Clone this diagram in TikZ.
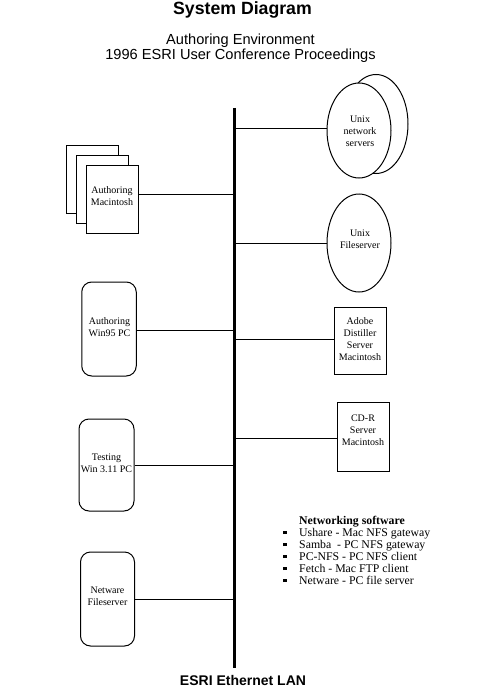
\documentclass[tikz,border=0pt]{standalone}
\usepackage{fontspec}
\setmainfont{Liberation Serif}
\newfontfamily\hv{Liberation Sans}
\usetikzlibrary{shapes.geometric}
\begin{document}
\begin{tikzpicture}[x=1pt,y=-1pt,
  lbl/.style={font=\fontsize{10}{12}\selectfont, align=center, inner sep=0pt},
  link/.style={line width=1pt},
  macbox/.style={draw, line width=1pt, fill=white, inner sep=0pt},
  pcbox/.style={draw, line width=1pt, rounded corners=10pt, fill=white, inner sep=0pt},
  srv/.style={draw, line width=1pt, ellipse, fill=white, inner sep=0pt},
  bus/.style={line width=3pt}]
\useasboundingbox[fill=white] (0,0) rectangle (483,690);

% titles
\node[font=\hv\bfseries\fontsize{17.7}{20}\selectfont, anchor=base, inner sep=0pt] (title) at (242.5,15) {System Diagram};
\node[font=\hv\fontsize{14.6}{15}\selectfont, anchor=base, inner sep=0pt] (sub1) at (240.5,45) {Authoring Environment};
\node[font=\hv\fontsize{14.6}{15}\selectfont, anchor=base, inner sep=0pt] (sub2) at (240.5,60) {1996 ESRI User Conference Proceedings};

% bus
\coordinate (bustop) at (234.5,108);
\coordinate (busbot) at (234.5,668);

% Authoring Macintosh stack
\node[macbox, minimum width=52pt, minimum height=68pt] (macC) at (92,179) {};
\node[macbox, minimum width=52pt, minimum height=68pt] (macB) at (102,189) {};
\node[macbox, minimum width=52pt, minimum height=68pt] (mac) at (112,199) {};
\node[lbl] (mact) at (112,196.5) {Authoring\\Macintosh};

% left PCs
\node[pcbox, minimum width=54.5pt, minimum height=94pt] (w95) at (109,329) {};
\node[lbl] (w95t) at (109.5,327.5) {Authoring\\Win95 PC};
\node[pcbox, minimum width=55pt, minimum height=92pt] (w311) at (106.5,465) {};
\node[lbl] (w311t) at (106.5,463.5) {Testing\\Win 3.11 PC};
\node[pcbox, minimum width=54pt, minimum height=94pt] (nw) at (107.5,599) {};
\node[lbl] (nwt) at (107.5,596.5) {Netware\\Fileserver};

% right servers
\node[srv, minimum width=64pt, minimum height=99pt] (unixB) at (376,124) {};
\node[srv, minimum width=64pt, minimum height=95pt] (unixnet) at (359,130.5) {};
\node[lbl] (unixnett) at (360,131.5) {Unix\\network\\servers};
\node[srv, minimum width=64pt, minimum height=98pt] (unixfs) at (359,243) {};
\node[lbl] (unixfst) at (360,239) {Unix\\Fileserver};
\node[macbox, minimum width=52pt, minimum height=67pt] (adobe) at (360,340.5) {};
\node[lbl] (adobet) at (360,339) {Adobe\\Distiller\\Server\\Macintosh};
\node[macbox, minimum width=52pt, minimum height=69pt] (cdr) at (363,436.5) {};
\node[lbl] (cdrt) at (363,430.5) {CD-R\\Server\\Macintosh};

% connectors
\draw[link] ([yshift=5pt]mac.east) -- ([yshift=5pt]mac.east -| bustop);
\draw[link] ([yshift=-1.5pt]w95.east) -- ([yshift=-1.5pt]w95.east -| bustop);
\draw[link] (w311.east) -- (w311.east -| bustop);
\draw[link] (nw.east) -- (nw.east -| bustop);
\draw[link] ([yshift=2.5pt]unixnet.west) -- ([yshift=2.5pt]unixnet.west -| bustop);
\draw[link] (unixfs.west) -- (unixfs.west -| bustop);
\draw[link] ([yshift=1.5pt]adobe.west) -- ([yshift=1.5pt]adobe.west -| bustop);
\draw[link] ([yshift=-1.5pt]cdr.west) -- ([yshift=-1.5pt]cdr.west -| bustop);
\draw[bus] (bustop) -- (busbot);

% LAN label
\node[font=\hv\bfseries\fontsize{14}{16}\selectfont, anchor=base, inner sep=0pt] (lan) at (243,685.5) {ESRI Ethernet LAN};

% networking software list
\node[anchor=north west, inner sep=0pt, font=\fontsize{11.8}{12}\selectfont] (soft) at (283,515.6) {%
\begin{tabular}{@{}l@{\hspace{12.5pt}}l@{}}
 & \textbf{Networking software}\\
\raisebox{2pt}{\rule{3.5pt}{3.5pt}} & Ushare - Mac NFS gateway\\
\raisebox{2pt}{\rule{3.5pt}{3.5pt}} & Samba\ \ - PC NFS gateway\\
\raisebox{2pt}{\rule{3.5pt}{3.5pt}} & PC-NFS - PC NFS client\\
\raisebox{2pt}{\rule{3.5pt}{3.5pt}} & Fetch - Mac FTP client\\
\raisebox{2pt}{\rule{3.5pt}{3.5pt}} & Netware - PC file server
\end{tabular}};
\end{tikzpicture}
\end{document}
